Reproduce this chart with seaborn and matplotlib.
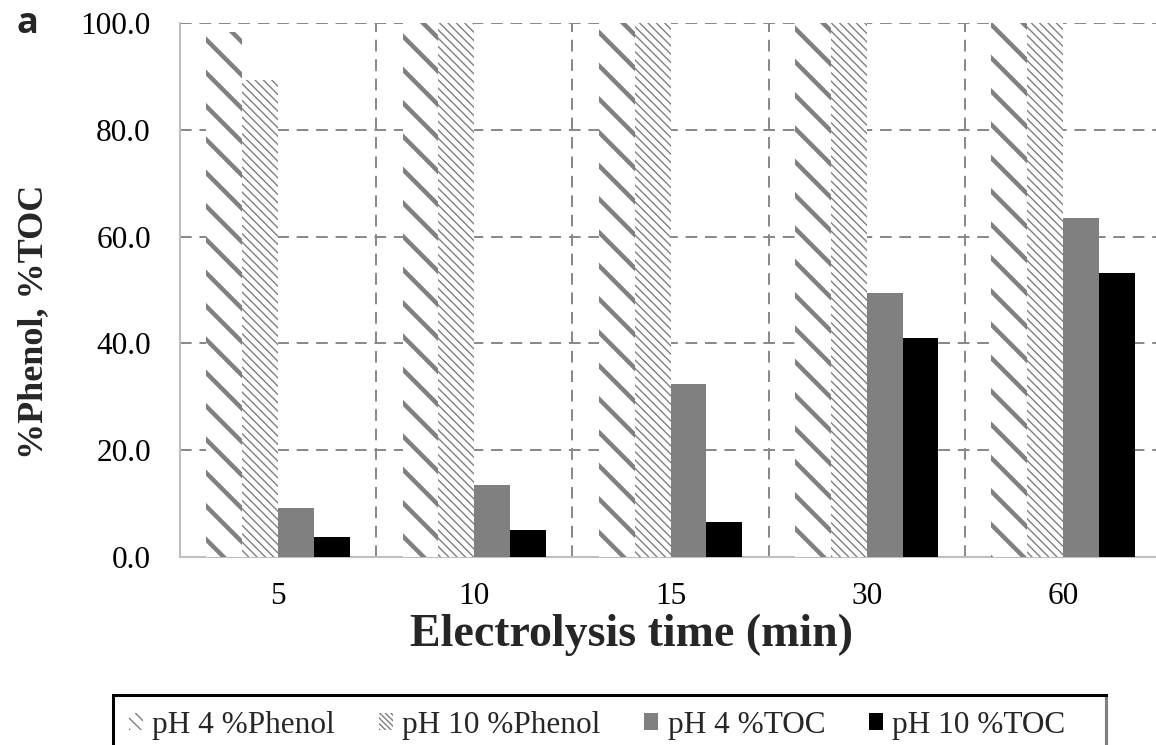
import numpy as np
import pandas as pd
import seaborn as sns
import matplotlib.pyplot as plt
from matplotlib.patches import Patch, Rectangle
from matplotlib.ticker import FixedLocator

# Electrolysis times (min) and removal efficiencies (%)
times = ["5", "10", "15", "30", "60"]
series = ["pH 4 %Phenol", "pH 10 %Phenol", "pH 4 %TOC", "pH 10 %TOC"]
ph4_phenol = [98.4, 100.0, 100.0, 100.0, 100.0]
ph10_phenol = [89.3, 100.0, 100.0, 100.0, 100.0]
ph4_toc = [9.1, 13.4, 32.4, 49.5, 63.5]
ph10_toc = [3.8, 5.1, 6.6, 41.1, 53.2]
y_ticks = [0, 20, 40, 60, 80, 100]

values = [ph4_phenol, ph10_phenol, ph4_toc, ph10_toc]
df = pd.DataFrame({
    "time": np.tile(times, len(series)),
    "series": np.repeat(series, len(times)),
    "value": np.concatenate(values),
})

sns.set_theme(style="white")
plt.rcParams["font.family"] = ["Liberation Serif", "DejaVu Serif"]
plt.rcParams["hatch.linewidth"] = 3.2

W, H = 1156, 745
fig = plt.figure(figsize=(W / 100, H / 100), dpi=100)
ax = fig.add_axes([180 / W, 1 - 557 / H, 981 / W, 534 / H])

grey = "#808080"
palette = {series[0]: "white", series[1]: "white",
           series[2]: grey, series[3]: "black"}
sns.barplot(data=df, x="time", y="value", hue="series", order=times,
            hue_order=series, palette=palette, width=0.73, saturation=1,
            legend=False, ax=ax, zorder=3)

styles = [
    dict(hatch="\\", hatch_lw=3.2, edge=grey),
    dict(hatch="\\\\\\\\", hatch_lw=1.0, edge=grey),
    dict(hatch=None, hatch_lw=None, edge=grey),
    dict(hatch=None, hatch_lw=None, edge="black"),
]
for cont, st in zip(ax.containers, styles):
    for bar in cont:
        bar.set_edgecolor(st["edge"])
        bar.set_linewidth(0)
        if st["hatch"]:
            bar.set_hatch(st["hatch"])
            if hasattr(bar, "set_hatch_linewidth"):
                bar.set_hatch_linewidth(st["hatch_lw"])
            else:
                bar._hatch_linewidth = st["hatch_lw"]

ax.set_ylim(0, 100)
ax.set_xlim(-0.5, 4.5)
ax.set_yticks(y_ticks)
ax.set_yticklabels([f"{v:.1f}" for v in y_ticks])

# Dashed gridlines: horizontal at every y tick, vertical between groups
ax.xaxis.set_minor_locator(FixedLocator(np.arange(0.5, 5.0, 1.0)))
ax.grid(False)
ax.yaxis.grid(True, which="major", color="#878787", linestyle=(0, (6, 4)),
              linewidth=1.4, zorder=0)
ax.xaxis.grid(True, which="minor", color="#878787", linestyle=(0, (6, 4)),
              linewidth=1.4, zorder=0)
ax.set_axisbelow(True)

for side in ["top", "right"]:
    ax.spines[side].set_visible(False)
for side in ["left", "bottom"]:
    ax.spines[side].set_color("#bfbfbf")
    ax.spines[side].set_linewidth(1.5)

ax.tick_params(axis="both", which="both", length=0, labelsize=22.5,
               colors="black")
ax.tick_params(axis="y", pad=21)
ax.tick_params(axis="x", pad=18)

ax.set_xlabel("Electrolysis time (min)", fontsize=33, fontweight="bold")
ax.xaxis.set_label_coords((632 - 180) / 981, -(614 - 557) / 534)
ax.set_ylabel("%Phenol, %TOC", fontsize=26, fontweight="bold")
ax.yaxis.set_label_coords((50 - 180) / 981, (557 - 322) / 534)

fig.text(17 / W, 1 - 33 / H, "a", fontsize=26, fontweight="bold",
         family=["Open Sans", "DejaVu Sans"], ha="left", va="baseline")

# Legend swatches use a thin hatch so the stripes stay visible at this size
plt.rcParams["hatch.linewidth"] = 1.0
handles = [
    Patch(facecolor="white", edgecolor=grey, hatch="\\\\\\", linewidth=0),
    Patch(facecolor="white", edgecolor=grey, hatch="\\\\\\\\\\\\", linewidth=0),
    Patch(facecolor=grey, edgecolor=grey, linewidth=0),
    Patch(facecolor="black", edgecolor="black", linewidth=0),
]
leg = fig.legend(handles, series, ncol=4, loc="upper left",
                 bbox_to_anchor=(113 / W, 1 - 695 / H), borderaxespad=0,
                 fontsize=22.5, frameon=False, handlelength=0.45,
                 handleheight=0.45, handletextpad=0.3, columnspacing=1.4,
                 borderpad=0.5)

# Legend border: black top/left, darker right edge running off the bottom
fig.patches.append(Rectangle((113 / W, -0.02), (1106 - 113) / W,
                             (745 - 695) / H + 0.02, transform=fig.transFigure,
                             facecolor="none", edgecolor="black",
                             linewidth=2.2, zorder=5))
fig.patches.append(Rectangle((1105 / W, -0.02), 3 / W, (745 - 697) / H + 0.02,
                             transform=fig.transFigure, facecolor="#7f7f7f",
                             edgecolor="none", zorder=6))

fig.savefig("out.png", dpi=100)
